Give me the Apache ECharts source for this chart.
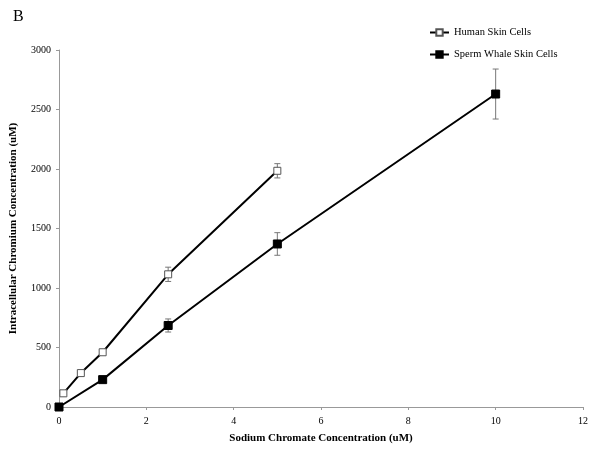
<!DOCTYPE html>
<html>
<head>
<meta charset="utf-8">
<script src="https://cdn.jsdelivr.net/npm/echarts@6/dist/echarts.min.js"></script>
<style>
  html, body { margin: 0; padding: 0; background: #fff; }
  #main { width: 600px; height: 463px; }
</style>
</head>
<body>
<div id="main"></div>
<script>
    // data
    var humanX = [0.1, 0.5, 1, 2.5, 5];
    var humanY = [115, 285, 460, 1115, 1985];
    var humanErr = [0, 0, 0, 60, 60];
    var whaleX = [0, 1, 2.5, 5, 10];
    var whaleY = [0, 230, 685, 1370, 2630];
    var whaleErr = [0, 0, 55, 95, 210];
    var xTicks = [0, 2, 4, 6, 8, 10, 12];
    var yTicks = [0, 500, 1000, 1500, 2000, 2500, 3000];

    var serif = 'Liberation Serif, Times New Roman, serif';

    function pairs(xs, ys) {
        var out = [];
        for (var i = 0; i < xs.length; i++) out.push([xs[i], ys[i]]);
        return out;
    }
    function errData(xs, ys, es) {
        var out = [];
        for (var i = 0; i < xs.length; i++) {
            if (es[i] > 0) out.push([xs[i], ys[i] - es[i], ys[i] + es[i]]);
        }
        return out;
    }
    // 误差线
    function renderErr(params, api) {
        var x = api.value(0);
        var lo = api.coord([x, api.value(1)]);
        var hi = api.coord([x, api.value(2)]);
        var w = 3;
        var st = {stroke: '#777', lineWidth: 1};
        return {
            type: 'group',
            children: [
                {type: 'line', shape: {x1: lo[0], y1: lo[1], x2: hi[0], y2: hi[1]}, style: st},
                {type: 'line', shape: {x1: lo[0] - w, y1: lo[1], x2: lo[0] + w, y2: lo[1]}, style: st},
                {type: 'line', shape: {x1: hi[0] - w, y1: hi[1], x2: hi[0] + w, y2: hi[1]}, style: st}
            ]
        };
    }

    var myChart = echarts.init(document.getElementById('main'));
    myChart.setOption({
        animation: false,
        backgroundColor: '#fff',
        title: {
            text: 'B',
            left: 8,
            top: 4,
            textStyle: {fontFamily: serif, fontSize: 16, fontWeight: 'normal', color: '#000'}
        },
        legend: {
            orient: 'vertical',
            left: 424,
            top: 22,
            itemGap: 11,
            itemWidth: 19,
            itemHeight: 8,
            textStyle: {fontFamily: serif, fontSize: 10.5, color: '#000'},
            data: ['Human Skin Cells', 'Sperm Whale Skin Cells']
        },
        grid: {left: 59, right: 17, top: 50, bottom: 56},
        xAxis: {
            type: 'value',
            min: 0,
            max: 12,
            interval: 2,
            name: 'Sodium Chromate Concentration (uM)',
            nameLocation: 'middle',
            nameGap: 26,
            nameTextStyle: {fontFamily: serif, fontSize: 11, fontWeight: 'bold', color: '#000'},
            axisLine: {lineStyle: {color: '#999'}},
            axisTick: {show: true, length: 3, lineStyle: {color: '#999'}},
            axisLabel: {fontFamily: serif, fontSize: 10, color: '#000', margin: 9,
                formatter: function (v) { return String(v); }},
            splitLine: {show: false}
        },
        yAxis: {
            type: 'value',
            min: 0,
            max: 3000,
            interval: 500,
            name: 'Intracellular Chromium Concentration (uM)',
            nameLocation: 'middle',
            nameGap: 40,
            nameTextStyle: {fontFamily: serif, fontSize: 11, fontWeight: 'bold', color: '#000'},
            axisLine: {show: true, lineStyle: {color: '#999'}},
            axisTick: {show: true, length: 3, lineStyle: {color: '#999'}},
            axisLabel: {fontFamily: serif, fontSize: 10, color: '#000', margin: 8,
                formatter: function (v) { return String(v); }},
            splitLine: {show: false}
        },
        series: [
            {
                name: 'Human Skin Cells',
                type: 'line',
                data: pairs(humanX, humanY),
                symbol: 'rect',
                symbolSize: 7,
                showAllSymbol: true,
                lineStyle: {color: '#000', width: 2},
                itemStyle: {color: '#fff', borderColor: '#555', borderWidth: 1},
                z: 3
            },
            {
                name: 'Sperm Whale Skin Cells',
                type: 'line',
                data: pairs(whaleX, whaleY),
                symbol: 'rect',
                symbolSize: 8,
                showAllSymbol: true,
                lineStyle: {color: '#000', width: 2},
                itemStyle: {color: '#000', borderColor: '#000', borderWidth: 1},
                z: 3
            },
            {
                type: 'custom',
                renderItem: renderErr,
                data: errData(humanX, humanY, humanErr),
                encode: {x: 0, y: [1, 2]},
                z: 2,
                silent: true
            },
            {
                type: 'custom',
                renderItem: renderErr,
                data: errData(whaleX, whaleY, whaleErr),
                encode: {x: 0, y: [1, 2]},
                z: 2,
                silent: true
            }
        ]
    });
</script>
</body>
</html>
